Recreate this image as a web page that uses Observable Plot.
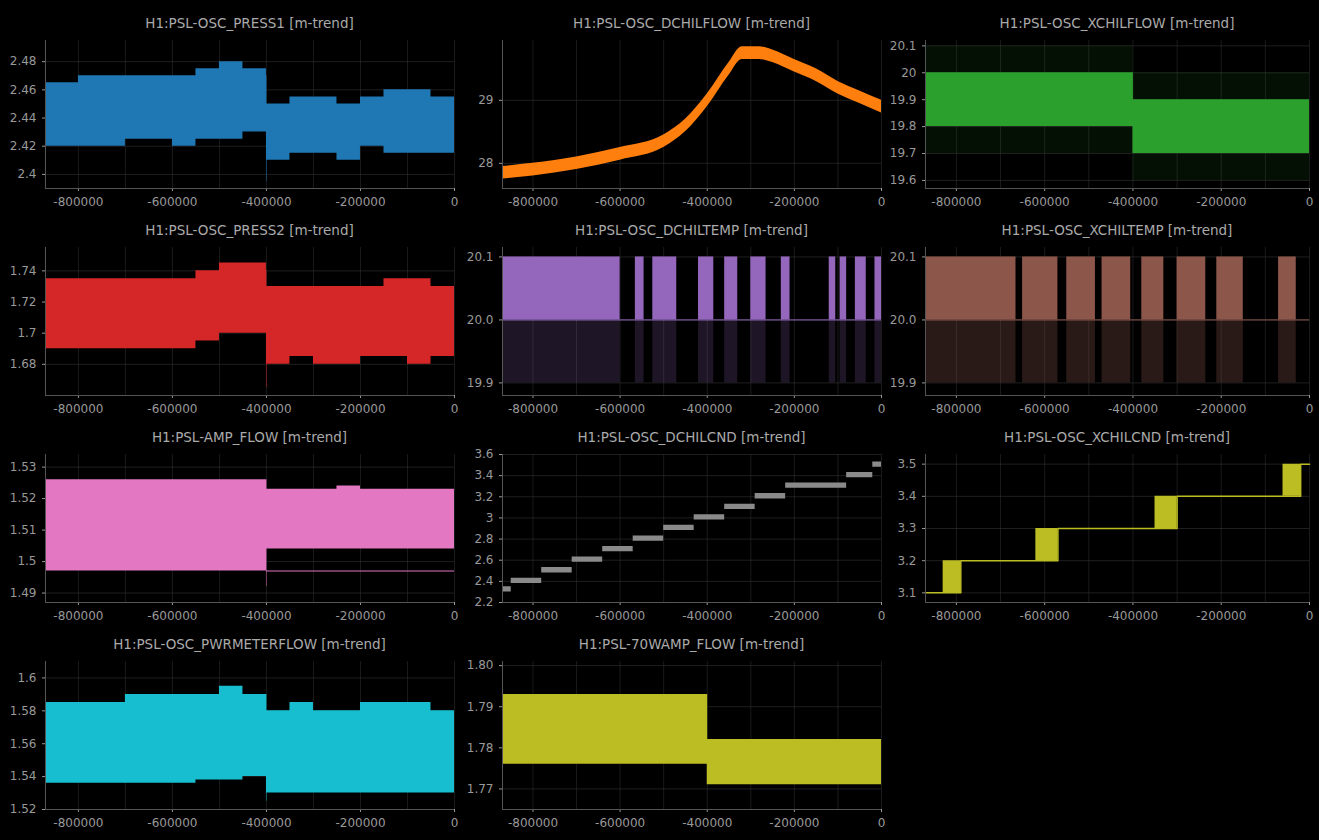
<!DOCTYPE html>
<html><head><meta charset="utf-8">
<script src="https://cdn.jsdelivr.net/npm/d3@7"></script>
<script src="https://cdn.jsdelivr.net/npm/@observablehq/plot@0.6"></script>
<style>
body{margin:0;background:#000;width:1319px;height:840px;overflow:hidden;font-family:"DejaVu Sans",sans-serif}
.p{position:absolute}
.t{color:#aaa;font-size:13.5px;text-align:center;height:26px;line-height:26px}
svg{display:block}
</style></head><body>
<script>
// ---- data (approximate envelopes) ----
const xTicks = [-800000,-600000,-400000,-200000,0];
const xBreaks = [-870000,-800000,-700000,-600000,-550000,-500000,-450000,-400000,-399000,-350000,-300000,-250000,-200000,-150000,-100000,-50000,0];
const press1Lo = [2.42,2.42,2.425,2.42,2.425,2.425,2.43,2.395,2.41,2.415,2.415,2.41,2.42,2.415,2.415,2.415,2.415];
const press1Hi = [2.465,2.47,2.47,2.47,2.475,2.48,2.475,2.47,2.45,2.455,2.455,2.45,2.455,2.46,2.46,2.455,2.45];
const press2Lo = [1.69,1.69,1.69,1.69,1.695,1.7,1.7,1.665,1.68,1.685,1.68,1.68,1.685,1.685,1.68,1.685,1.68];
const press2Hi = [1.735,1.735,1.735,1.735,1.74,1.745,1.745,1.74,1.73,1.73,1.73,1.73,1.73,1.735,1.735,1.73,1.73];
const ampLo = [1.497,1.497,1.497,1.497,1.497,1.497,1.497,1.492,1.504,1.504,1.504,1.504,1.504,1.504,1.504,1.504,1.504];
const ampHi = [1.526,1.526,1.526,1.526,1.526,1.526,1.526,1.526,1.523,1.523,1.523,1.524,1.523,1.523,1.523,1.523,1.523];
const pwrLo = [1.536,1.536,1.536,1.536,1.538,1.538,1.54,1.525,1.53,1.53,1.53,1.53,1.53,1.53,1.53,1.53,1.53];
const pwrHi = [1.585,1.585,1.59,1.59,1.59,1.595,1.59,1.59,1.58,1.585,1.58,1.58,1.585,1.585,1.585,1.58,1.58];
const w70Lo = [1.776,1.776,1.776,1.776,1.776,1.776,1.776,1.771,1.771,1.771,1.771,1.771,1.771,1.771,1.771,1.771,1.771];
const w70Hi = [1.793,1.793,1.793,1.793,1.793,1.793,1.793,1.793,1.782,1.782,1.782,1.782,1.782,1.782,1.782,1.782,1.782];
const xchflLo = [19.8,19.8,19.8,19.8,19.8,19.8,19.8,19.7,19.7,19.7,19.7,19.7,19.7,19.7,19.7,19.7,19.7];
const xchflHi = [20.0,20.0,20.0,20.0,20.0,20.0,20.0,20.0,19.9,19.9,19.9,19.9,19.9,19.9,19.9,19.9,19.9];
const dflowX = [-870000,-800000,-700000,-600000,-500000,-450000,-400000,-350000,-320000,-280000,-250000,-200000,-150000,-100000,-50000,0];
const dflowY = [27.85,27.9,28.0,28.15,28.35,28.6,29.0,29.5,29.75,29.75,29.7,29.55,29.4,29.2,29.05,28.9];
const dtempX1 = [-870000,-565000,-525000,-420000,-360000,-300000,-230000,-120000,-95000,-60000,-15000];
const dtempX2 = [-600000,-545000,-470000,-385000,-330000,-265000,-210000,-105000,-80000,-35000,0];
const xtempX1 = [-870000,-650000,-550000,-470000,-380000,-300000,-210000,-70000];
const xtempX2 = [-665000,-570000,-485000,-405000,-330000,-235000,-150000,-30000];
const cndX = [-870000,-850000,-780000,-710000,-640000,-570000,-500000,-430000,-360000,-290000,-220000,-150000,-80000,-20000,0];
const cndY = [2.32,2.4,2.5,2.6,2.7,2.8,2.9,3.0,3.1,3.2,3.3,3.3,3.4,3.5,3.5];
const xcndX = [-870000,-830000,-790000,-620000,-570000,-350000,-300000,-60000,-20000,0];
const xcndLo = [3.1,3.1,3.2,3.2,3.3,3.3,3.4,3.4,3.5,3.5];
const xcndHi = [3.1,3.2,3.2,3.3,3.3,3.4,3.4,3.5,3.5,3.5];

const T = (x,lo,hi)=>x.map((v,i)=>({x:v,lo:lo[i],hi:hi[i]}));
const cols=[{left:0,w:460,ml:45,mr:6},{left:460,w:426,ml:42,mr:5},{left:886,w:430,ml:39,mr:7}];
const rowsTop=[10,217,424,631];

function panel(r,c,title,ydom,yticks,yfmt,marks){
  const C=cols[c];
  const d=document.createElement("div");d.className="p";
  d.style.left=C.left+"px";d.style.top=rowsTop[r]+"px";d.style.width=C.w+"px";
  const t=document.createElement("div");t.className="t";t.textContent=title;
  t.style.marginLeft=C.ml+"px";t.style.marginRight=C.mr+"px";d.appendChild(t);
  const p=Plot.plot({width:C.w,height:174,marginLeft:C.ml,marginRight:C.mr,marginTop:4,marginBottom:22,
    style:{background:"#000",color:"#999",fontSize:"12px",fontFamily:"DejaVu Sans, sans-serif",overflow:"visible"},
    x:{domain:[-870000,0],ticks:xTicks,tickFormat:v=>String(v),tickSize:3,label:null},
    y:{domain:ydom,ticks:yticks,tickFormat:yfmt,tickSize:3,label:null},
    marks:[
      Plot.gridX(d3.range(-800000,1,100000),{stroke:"#333",strokeOpacity:0.5}),
      Plot.gridY(yticks,{stroke:"#333",strokeOpacity:0.6}),
      ...marks,
      Plot.ruleX([-870000],{stroke:"#555"}),Plot.ruleY([ydom[0]],{stroke:"#555"})
    ]});
  d.appendChild(p);document.body.appendChild(d);
}
const g=d3.format("~g");
const band=(x,lo,hi,col)=>Plot.areaY(T(x,lo,hi),{x:"x",y1:"lo",y2:"hi",fill:col,curve:"step-after"});

panel(0,0,"H1:PSL-OSC_PRESS1 [m-trend]",[2.39,2.495],[2.4,2.42,2.44,2.46,2.48],g,[band(xBreaks,press1Lo,press1Hi,"#1f77b4")]);
panel(0,1,"H1:PSL-OSC_DCHILFLOW [m-trend]",[27.6,29.95],[28,29],g,[
  Plot.areaY(dflowX.map((x,i)=>({x,lo:dflowY[i]-0.1,hi:dflowY[i]+0.1})),{x:"x",y1:"lo",y2:"hi",fill:"#ff7f0e",curve:"monotone-x"})]);
panel(0,2,"H1:PSL-OSC_XCHILFLOW [m-trend]",[19.57,20.12],[19.6,19.7,19.8,19.9,20,20.1],g,[
  Plot.areaY(T(xBreaks,xBreaks.map(v=>v<-400000?19.7:19.6),xBreaks.map(v=>v<-400000?20.1:20.0)),{x:"x",y1:"lo",y2:"hi",fill:"#2ca02c",fillOpacity:0.1,curve:"step-after"}),
  band(xBreaks,xchflLo,xchflHi,"#2ca02c")]);
panel(1,0,"H1:PSL-OSC_PRESS2 [m-trend]",[1.66,1.755],[1.68,1.7,1.72,1.74],g,[band(xBreaks,press2Lo,press2Hi,"#d62728")]);
panel(1,1,"H1:PSL-OSC_DCHILTEMP [m-trend]",[19.88,20.115],[19.9,20.0,20.1],d3.format(".1f"),[
  Plot.rectY(dtempX1.map((x,i)=>({x1:x,x2:dtempX2[i]})),{x1:"x1",x2:"x2",y1:19.9,y2:20.0,fill:"#9467bd",fillOpacity:0.2}),
  Plot.rectY(dtempX1.map((x,i)=>({x1:x,x2:dtempX2[i]})),{x1:"x1",x2:"x2",y1:20.0,y2:20.1,fill:"#9467bd"}),
  Plot.ruleY([20.0],{stroke:"#9467bd"})]);
panel(1,2,"H1:PSL-OSC_XCHILTEMP [m-trend]",[19.88,20.115],[19.9,20.0,20.1],d3.format(".1f"),[
  Plot.rectY(xtempX1.map((x,i)=>({x1:x,x2:xtempX2[i]})),{x1:"x1",x2:"x2",y1:19.9,y2:20.0,fill:"#8c564b",fillOpacity:0.3}),
  Plot.rectY(xtempX1.map((x,i)=>({x1:x,x2:xtempX2[i]})),{x1:"x1",x2:"x2",y1:20.0,y2:20.1,fill:"#8c564b"}),
  Plot.ruleY([20.0],{stroke:"#8c564b"})]);
panel(2,0,"H1:PSL-AMP_FLOW [m-trend]",[1.487,1.534],[1.49,1.5,1.51,1.52,1.53],g,[
  band(xBreaks,ampLo,ampHi,"#e377c2"),
  Plot.ruleY([1.497],{x1:-400000,x2:0,stroke:"#e377c2"})]);
panel(2,1,"H1:PSL-OSC_DCHILCND [m-trend]",[2.2,3.6],[2.2,2.4,2.6,2.8,3,3.2,3.4,3.6],g,[
  Plot.areaY(cndX.map((x,i)=>({x,lo:cndY[i]-0.02,hi:cndY[i]+0.03})),{x:"x",y1:"lo",y2:"hi",fill:"#8a8a8a",curve:"step-after"})]);
panel(2,2,"H1:PSL-OSC_XCHILCND [m-trend]",[3.07,3.53],[3.1,3.2,3.3,3.4,3.5],g,[
  Plot.areaY(T(xcndX,xcndLo,xcndHi),{x:"x",y1:"lo",y2:"hi",fill:"#bcbd22",curve:"step-after"}),
  Plot.lineY(xcndX.map((x,i)=>({x,y:xcndLo[i]})),{x:"x",y:"y",stroke:"#bcbd22",curve:"step-after"})]);
panel(3,0,"H1:PSL-OSC_PWRMETERFLOW [m-trend]",[1.52,1.61],[1.52,1.54,1.56,1.58,1.6],g,[band(xBreaks,pwrLo,pwrHi,"#17becf")]);
panel(3,1,"H1:PSL-70WAMP_FLOW [m-trend]",[1.765,1.801],[1.77,1.78,1.79,1.80],d3.format(".2f"),[band(xBreaks,w70Lo,w70Hi,"#bcbd22")]);
</script></body></html>
